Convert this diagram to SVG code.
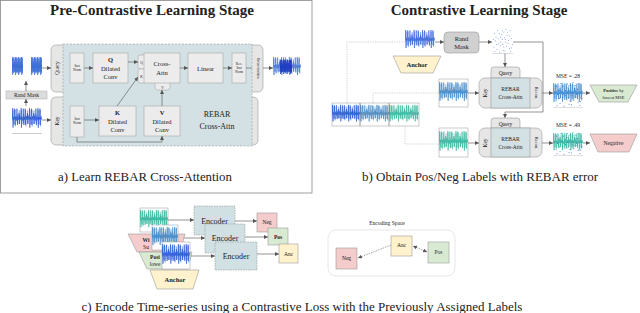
<svg xmlns="http://www.w3.org/2000/svg" width="640" height="313" viewBox="0 0 640 313" font-family="'Liberation Serif', 'Times New Roman', serif">
<style>
text{font-family:"Liberation Serif","Times New Roman",serif;fill:#222}
.title{font-size:15px;font-weight:bold;text-anchor:middle}
.cap{font-size:13px;text-anchor:middle}
.lbl{font-size:6.5px;text-anchor:middle}
.sm{font-size:5.5px;text-anchor:middle}
.tiny{font-size:3.5px;text-anchor:middle}
.b{font-weight:bold}
.box{fill:#ececec;stroke:#a8a8a8;stroke-width:0.6}
.pane{fill:#e6e6e6;stroke:#9a9a9a;stroke-width:0.6}
.blue{fill:#d3e1e4;stroke:#9a9a9a;stroke-width:0.6}
.conn{fill:none;stroke:#666;stroke-width:0.7}
.dot{fill:none;stroke:#bbb;stroke-width:0.7;stroke-dasharray:1.2,1.2}
.frame{fill:#fff;stroke:#999;stroke-width:0.5}
.pink{fill:#f4cccc;stroke:#999;stroke-width:0.6}
.green{fill:#d9ead3;stroke:#999;stroke-width:0.6}
.yellow{fill:#fff2cc;stroke:#999;stroke-width:0.6}
.enc{fill:#d0e0e3;stroke:#999;stroke-width:0.6;stroke-dasharray:1.5,1}
.dash{fill:none;stroke:#666;stroke-width:0.6;stroke-dasharray:1.5,1}
</style>
<defs>
<marker id="ah" viewBox="0 0 6 6" refX="6" refY="3" markerWidth="4" markerHeight="4" markerUnits="userSpaceOnUse" orient="auto-start-reverse"><path d="M0,0 L6,3 L0,6 z" fill="#555"/></marker>
<symbol id="sig" viewBox="0 0 100 50" preserveAspectRatio="none">
<path fill="none" stroke="currentColor" stroke-width="0.6" vector-effect="non-scaling-stroke" d="M0,25 l1.5,-3 1,-18 1,36 1,-20 1.5,3 1,2 1,-5 1,-15 1,30 1,-12 2,-4 1,6 1.5,2 1,-22 1,24 1,6 1,-14 1.5,4 1,-2 1.5,-10 1,20 1,-16 1.5,6 1,2 1.5,-3 1,-18 1,36 1,-20 1.5,3 1,2 1.5,2 1,-22 1,24 1,6 1,-14 1.5,4 1,-5 1,-15 1,30 1,-12 2,-4 1,6 1,-2 1.5,-10 1,20 1,-16 1.5,6 1,2 1.5,-3 1,-18 1,36 1,-20 1.5,3 1,2 1,-5 1,-15 1,30 1,-12 2,-4 1,6 1,-2 1.5,-10 1,20 1,-16 1.5,6 1,2 1.5,2 1,-22 1,24 1,6 1,-14 1.5,4 1.5,-3 1,-18 1,36 1,-20 1.5,3 1,2 1,-5 1,-15 1,30 1,-12 2,-4 1,6"/>
<path fill="none" stroke="currentColor" stroke-opacity="0.5" stroke-width="0.6" vector-effect="non-scaling-stroke" transform="matrix(1,0,0,0.85,0,3.75)" d="M1,25 l1.5,2 1,-22 1,24 1,6 1,-14 1.5,4 1.5,-3 1,-18 1,36 1,-20 1.5,3 1,2 1,-2 1.5,-10 1,20 1,-16 1.5,6 1,2 1,-5 1,-15 1,30 1,-12 2,-4 1,6 1.5,2 1,-22 1,24 1,6 1,-14 1.5,4 1,-2 1.5,-10 1,20 1,-16 1.5,6 1,2 1.5,-3 1,-18 1,36 1,-20 1.5,3 1,2 1,-5 1,-15 1,30 1,-12 2,-4 1,6 1.5,2 1,-22 1,24 1,6 1,-14 1.5,4 1.5,-3 1,-18 1,36 1,-20 1.5,3 1,2 1,-5 1,-15 1,30 1,-12 2,-4 1,6 1,-2 1.5,-10 1,20 1,-16 1.5,6 1,2 1.5,2 1,-22 1,24 1,6 1,-14 1.5,4 1.5,-3 1,-18 1,36 1,-20 1.5,3 1,2"/>
</symbol>
<symbol id="dots" viewBox="0 0 100 100" preserveAspectRatio="none">
<g fill="currentColor">
<rect x="10" y="20" width="3" height="3"/><rect x="25" y="8" width="3" height="3"/><rect x="40" y="35" width="3" height="3"/><rect x="55" y="15" width="3" height="3"/><rect x="70" y="28" width="3" height="3"/><rect x="85" y="10" width="3" height="3"/><rect x="15" y="50" width="3" height="3"/><rect x="30" y="62" width="3" height="3"/><rect x="48" y="45" width="3" height="3"/><rect x="62" y="55" width="3" height="3"/><rect x="78" y="48" width="3" height="3"/><rect x="92" y="40" width="3" height="3"/><rect x="8" y="75" width="3" height="3"/><rect x="22" y="85" width="3" height="3"/><rect x="38" y="70" width="3" height="3"/><rect x="52" y="88" width="3" height="3"/><rect x="68" y="72" width="3" height="3"/><rect x="82" y="80" width="3" height="3"/><rect x="95" y="65" width="3" height="3"/><rect x="18" y="35" width="3" height="3"/><rect x="45" y="25" width="3" height="3"/><rect x="75" y="60" width="3" height="3"/><rect x="60" y="90" width="3" height="3"/><rect x="35" y="95" width="3" height="3"/><rect x="88" y="92" width="3" height="3"/><rect x="5" y="45" width="3" height="3"/><rect x="58" y="38" width="3" height="3"/><rect x="28" y="42" width="3" height="3"/><rect x="72" y="15" width="3" height="3"/><rect x="50" y="65" width="3" height="3"/><rect x="40" y="55" width="3" height="3"/><rect x="65" y="5" width="3" height="3"/><rect x="20" y="65" width="3" height="3"/><rect x="80" y="30" width="3" height="3"/><rect x="12" y="92" width="3" height="3"/><rect x="90" y="78" width="3" height="3"/><rect x="33" y="20" width="3" height="3"/><rect x="55" y="75" width="3" height="3"/><rect x="47" y="10" width="3" height="3"/><rect x="63" y="45" width="3" height="3"/>
</g>
</symbol>
</defs>

<rect x="0.5" y="0.5" width="311.5" height="192.5" fill="none" stroke="#888" stroke-width="0.8"/>

<g id="titles">
<text class="title" x="152" y="15">Pre-Contrastive Learning Stage</text>
<text class="title" x="479" y="15">Contrastive Learning Stage</text>
<text class="cap" x="145" y="181" style="font-size:12.8px">a) Learn REBAR Cross-Attention</text>
<text class="cap" x="480" y="181">b) Obtain Pos/Neg Labels with REBAR error</text>
<text class="cap" x="302" y="311">c) Encode Time-series using a Contrastive Loss with the Previously Assigned Labels</text>
</g>

<!-- Panel a -->
<g id="a-query-pane"><rect class="pane" x="51" y="45" width="212" height="47" rx="5"/><text class="sm" transform="translate(59,68) rotate(-90)">Query</text></g>
<g id="a-key-pane"><rect class="pane" x="51" y="97" width="207" height="48" rx="5"/><text class="sm" transform="translate(59,121) rotate(-90)">Key</text></g>
<g id="a-rebar"><rect class="blue" x="63" y="44" width="189" height="102" style="stroke-dasharray:2,1.5"/><text x="217" y="117" style="font-size:8px;text-anchor:middle">REBAR</text><text x="217" y="129" style="font-size:8px;text-anchor:middle">Cross-Attn</text></g>
<g id="a-recon"><text class="tiny" transform="translate(256.5,68) rotate(90)">Reconstruction</text></g>
<g id="a-query-in"><use href="#sig" x="12" y="55" width="11" height="25" color="#3d6fd8"/><use href="#sig" x="31" y="55" width="11" height="25" color="#3d6fd8"/></g>
<g id="a-randmask"><rect x="6" y="91" width="41" height="8" fill="#dcdcdc" stroke="#aaa" stroke-width="0.5"/><text class="sm" x="26.5" y="97">Rand Mask</text></g>
<g id="a-key-in"><use href="#sig" x="12" y="106" width="30" height="27" color="#1f4fd0"/><line x1="12" y1="133.5" x2="42" y2="133.5" stroke="#999" stroke-width="0.5"/></g>
<g id="a-instnorm-q"><rect class="box" x="70" y="53" width="14" height="30"/><text class="tiny" x="77" y="67">Inst</text><text class="tiny" x="77" y="71">Norm</text></g>
<g id="a-instnorm-k"><rect class="box" x="70" y="106" width="14" height="31"/><text class="tiny" x="77" y="120">Inst</text><text class="tiny" x="77" y="124">Norm</text></g>
<g id="a-qconv"><rect class="box" x="93" y="53" width="35" height="30"/><text class="lbl b" x="110.5" y="62">Q</text><text class="lbl" x="110.5" y="71">Dilated</text><text class="lbl" x="110.5" y="79">Conv</text></g>
<g id="a-kconv"><rect class="box" x="99" y="106" width="37" height="30"/><text class="lbl b" x="117.5" y="115">K</text><text class="lbl" x="117.5" y="124">Dilated</text><text class="lbl" x="117.5" y="132">Conv</text></g>
<g id="a-vconv"><rect class="box" x="144" y="106" width="36" height="30"/><text class="lbl b" x="162" y="115">V</text><text class="lbl" x="162" y="124">Dilated</text><text class="lbl" x="162" y="132">Conv</text></g>
<g id="a-crossattn"><rect class="box" x="138" y="55" width="8" height="14" rx="2"/><rect class="box" x="138" y="69" width="8" height="14" rx="2"/><rect class="box" x="155" y="80" width="15" height="10" rx="2.5"/><rect class="box" x="144" y="53" width="36" height="30"/><text class="tiny" x="141.5" y="64">Q</text><text class="tiny" x="141.5" y="78">K</text><text class="tiny" x="162.5" y="88.5">V</text><text class="lbl" x="162" y="66">Cross-</text><text class="lbl" x="162" y="75">Attn</text></g>
<g id="a-linear"><rect class="box" x="188" y="53" width="35" height="30"/><text class="lbl" x="205.5" y="71">Linear</text></g>
<g id="a-recnorm"><rect class="box" x="232" y="53" width="14" height="30"/><text class="tiny" x="239" y="65">Rec.</text><text class="tiny" x="239" y="69">Inst</text><text class="tiny" x="239" y="73">Norm</text></g>
<g id="a-out"><use href="#sig" x="273" y="55" width="28" height="25" color="#3d6fd8"/><use href="#sig" x="280" y="58" width="12" height="20" color="#1f3fc0"/></g>
<g id="a-connectors">
<path class="conn" d="M42,68 H51" marker-end="url(#ah)"/>
<path class="conn" d="M42,120 H51" marker-end="url(#ah)"/>
<path class="conn" d="M26,106 V99" marker-end="url(#ah)"/>
<path class="conn" d="M26,91 V81" marker-end="url(#ah)"/>
<path class="conn" d="M84,68 H93" marker-end="url(#ah)"/>
<path class="conn" d="M128,62 H138" marker-end="url(#ah)"/>
<path class="conn" d="M84,120 H99" marker-end="url(#ah)"/>
<path class="conn" d="M117,106 L138,77" marker-end="url(#ah)"/>
<path class="conn" d="M162,106 V90" marker-end="url(#ah)"/>
<path class="conn" d="M77,137 V142 H162 V136" marker-end="url(#ah)"/>
<path class="conn" d="M180,68 H188" marker-end="url(#ah)"/>
<path class="conn" d="M223,68 H232" marker-end="url(#ah)"/>
<path class="conn" d="M246,68 H252"/>
<path class="conn" d="M263,68 H273" marker-end="url(#ah)"/>
</g>

<!-- Panel b -->
<g id="b-connectors">
<path class="dot" d="M405,42 H347 V103"/>
<path class="dot" d="M373,103 V93 H439"/>
<path class="dot" d="M405,126 V144 H439"/>
<path class="conn" d="M435,42 H444" marker-end="url(#ah)"/>
<path class="conn" d="M479,42 H492" marker-end="url(#ah)"/>
<path class="conn" d="M505,53 V67" marker-end="url(#ah)"/>
<path class="conn" d="M513,42 H543 V112 H505 V118" marker-end="url(#ah)"/>
<path class="conn" d="M468,93 H479" marker-end="url(#ah)"/>
<path class="conn" d="M542,93 H553" marker-end="url(#ah)"/>
<path class="conn" d="M583,93 H590" marker-end="url(#ah)"/>
<path class="conn" d="M468,143 H479" marker-end="url(#ah)"/>
<path class="conn" d="M542,143 H553" marker-end="url(#ah)"/>
<path class="conn" d="M583,143 H590" marker-end="url(#ah)"/>
</g>
<g id="b-anchor-sig"><use href="#sig" x="405" y="28" width="30" height="25" color="#2f5fd8"/></g>
<g id="b-anchor"><polygon class="yellow" points="393,56 441,56 433,73 401,73"/><text class="lbl b" x="417" y="67">Anchor</text></g>
<g id="b-randmask"><rect x="444" y="32" width="35" height="21" rx="4" fill="#d0d0d0" stroke="#999" stroke-width="0.6"/><text class="lbl" x="461.5" y="41">Rand</text><text class="lbl" x="461.5" y="49">Mask</text></g>
<g id="b-masked"><use href="#dots" x="492" y="28" width="21" height="25" color="#2f5fd8"/><line x1="492" y1="53.5" x2="513" y2="53.5" stroke="#bbb" stroke-width="0.5"/></g>
<g id="b-triple">
<rect class="frame" x="332" y="103" width="87" height="23"/>
<use href="#sig" x="332" y="103" width="28" height="23" color="#2255d0"/>
<use href="#sig" x="360" y="103" width="29" height="23" color="#3d85c6"/>
<use href="#sig" x="389" y="103" width="30" height="23" color="#2bb39a"/>
<line x1="360" y1="103" x2="360" y2="126" stroke="#555" stroke-width="0.6"/>
<line x1="389" y1="103" x2="389" y2="126" stroke="#555" stroke-width="0.6"/>
</g>
<g id="b-key1"><rect class="frame" x="439" y="79" width="29" height="28"/><use href="#sig" x="439" y="80" width="29" height="26" color="#3d85c6"/></g>
<g id="b-key2"><rect class="frame" x="439" y="128" width="29" height="29"/><use href="#sig" x="439" y="129" width="29" height="27" color="#2bb39a"/></g>
<g id="b-rebar1">
<path class="pane" d="M491,79 V70 Q491,67 494,67 H517 Q520,67 520,70 V79 Z"/>
<text class="sm" x="505.5" y="75">Query</text>
<rect class="pane" x="479" y="78" width="63" height="30" rx="6"/>
<rect class="blue" x="491" y="78" width="39" height="30"/>
<text class="sm" transform="translate(487,93) rotate(-90)">Key</text>
<text class="tiny" style="font-size:4.5px" transform="translate(534.5,93) rotate(90)">Recon.</text>
<text class="sm" x="510.5" y="91">REBAR</text><text class="sm" x="510.5" y="99">Cross-Attn</text>
</g>
<g id="b-rebar2">
<path class="pane" d="M491,129 V121 Q491,118 494,118 H517 Q520,118 520,121 V129 Z"/>
<text class="sm" x="505.5" y="126">Query</text>
<rect class="pane" x="479" y="128" width="63" height="29" rx="6"/>
<rect class="blue" x="491" y="128" width="39" height="29"/>
<text class="sm" transform="translate(487,143) rotate(-90)">Key</text>
<text class="tiny" style="font-size:4.5px" transform="translate(534.5,143) rotate(90)">Recon.</text>
<text class="sm" x="510.5" y="141">REBAR</text><text class="sm" x="510.5" y="149">Cross-Attn</text>
</g>
<g id="b-out1"><text class="sm" x="568" y="78">MSE = .28</text><use href="#sig" x="553" y="81" width="30" height="26" color="#3d85c6"/><use href="#dots" x="553" y="81" width="30" height="26" color="#2f5fd8"/><line x1="553" y1="107.5" x2="583" y2="107.5" stroke="#bbb" stroke-width="0.5"/></g>
<g id="b-out2"><text class="sm" x="568" y="127">MSE = .49</text><use href="#sig" x="553" y="131" width="30" height="24" color="#2bb39a"/><use href="#dots" x="553" y="131" width="30" height="24" color="#2f5fd8"/><line x1="553" y1="155.5" x2="583" y2="155.5" stroke="#bbb" stroke-width="0.5"/></g>
<g id="b-positive"><polygon class="green" points="590,85 637,85 628,102 599,102"/><text class="tiny" style="font-size:4.5px" x="613.5" y="92"><tspan class="b">Positive</tspan> by</text><text class="tiny" style="font-size:4.5px" x="613.5" y="98.5">lowest MSE</text></g>
<g id="b-negative"><polygon class="pink" points="590,134 637,134 629,152 598,152"/><text class="sm" x="613.5" y="145">Negative</text></g>

<!-- Panel c -->
<g id="c-connectors">
<path class="conn" d="M168,220 H194" marker-end="url(#ah)"/>
<path class="conn" d="M178,238 H205" marker-end="url(#ah)"/>
<path class="conn" d="M190,256 H215" marker-end="url(#ah)"/>
<path class="conn" d="M235,221 H257" marker-end="url(#ah)"/>
<path class="conn" d="M245,237 H268" marker-end="url(#ah)"/>
<path class="conn" d="M257,254 H279" marker-end="url(#ah)"/>
</g>
<g id="c-neg-trap"><polygon class="pink" points="128,234 185,234 180,252 137,252"/><text class="sm b" x="146" y="242">Wi</text><text class="sm" x="146" y="249">Su</text></g>
<g id="c-pos-trap"><polygon class="green" points="139,252 192,252 188,269 147,269"/><text class="sm b" x="155" y="259">Posi</text><text class="sm" x="155" y="266">lowe</text></g>
<g id="c-anchor"><polygon class="yellow" points="150,270 199,270 193,289 157,289"/><text class="lbl b" x="175" y="282">Anchor</text></g>
<g id="c-sig1"><rect class="frame" x="140" y="208" width="28" height="24"/><use href="#sig" x="140" y="208" width="28" height="24" color="#2bb39a"/></g>
<g id="c-sig2"><rect class="frame" x="152" y="225" width="26" height="25"/><use href="#sig" x="152" y="225" width="26" height="25" color="#3d85c6"/></g>
<g id="c-sig3"><rect class="frame" x="162" y="242" width="28" height="27"/><use href="#sig" x="162" y="242" width="28" height="27" color="#2255d0"/></g>
<g id="c-enc1"><rect class="enc" x="194" y="206" width="41" height="29"/><text x="214.5" y="224" style="font-size:8px;text-anchor:middle">Encoder</text></g>
<g id="c-enc2"><rect class="enc" x="205" y="224" width="40" height="29"/><text x="225" y="241" style="font-size:8px;text-anchor:middle">Encoder</text></g>
<g id="c-enc3"><rect class="enc" x="215" y="242" width="42" height="28"/><text x="236" y="259" style="font-size:8px;text-anchor:middle">Encoder</text></g>
<g id="c-neg"><rect class="pink" x="257" y="213" width="20" height="19"/><text class="sm" x="267" y="224">Neg</text></g>
<g id="c-pos"><rect class="green" x="268" y="228" width="20" height="17"/><text class="sm b" x="278" y="238.5">Pos</text></g>
<g id="c-anc"><rect class="yellow" x="279" y="244" width="19" height="19"/><text class="sm" x="288.5" y="255.5">Anc</text></g>

<g id="c-space"><rect x="328" y="230" width="127" height="46" rx="8" fill="#fff" stroke="#ddd" stroke-width="0.7"/><text class="sm" x="387" y="225">Encoding Space</text></g>
<g id="c-space-connectors">
<path class="dash" d="M391,245 L358,258" marker-end="url(#ah)"/>
<path class="dash" d="M427,252 L413,246" marker-start="url(#ah)" marker-end="url(#ah)"/>
</g>
<g id="c-space-neg"><rect class="pink" x="336" y="248" width="21" height="21"/><text class="sm" x="346.5" y="260">Neg</text></g>
<g id="c-space-anc"><rect class="yellow" x="391" y="236" width="21" height="20"/><text class="sm" x="401.5" y="247">Anc</text></g>
<g id="c-space-pos"><rect class="green" x="428" y="242" width="21" height="21"/><text class="sm" x="438.5" y="254">Pos</text></g>
</svg>
